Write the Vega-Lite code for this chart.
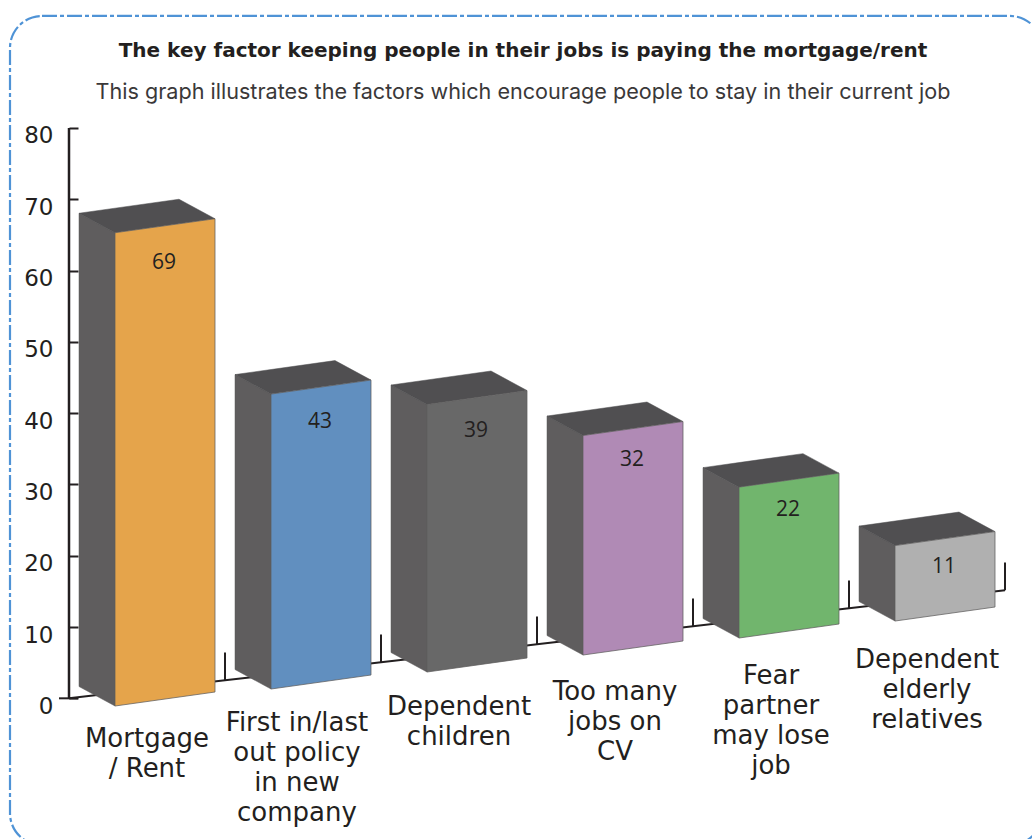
{
  "$schema": "https://vega.github.io/schema/vega-lite/v6.json",
  "width": 954,
  "height": 839,
  "padding": {"left": 78, "top": 0, "right": 0, "bottom": 0},
  "autosize": {"type": "none"},
  "background": "white",
  "view": {"stroke": null},
  "config": {"axis": {"grid": false}},
  "title": {
    "text": "The key factor keeping people in their jobs is paying the mortgage/rent",
    "subtitle": "This graph illustrates the factors which encourage people to stay in their current job",
    "anchor": "middle",
    "dx": -32,
    "offset": -104,
    "font": "DejaVu Sans",
    "fontSize": 20,
    "fontWeight": "bold",
    "color": "#231f20",
    "subtitleFont": "Inter",
    "subtitleFontSize": 21.6,
    "subtitleFontWeight": "normal",
    "subtitleColor": "#3a3839",
    "subtitlePadding": 21
  },
  "data": {
    "values": [
      {"factor": "Mortgage\n/ Rent", "value": 69},
      {"factor": "First in/last\nout policy\nin new\ncompany", "value": 43},
      {"factor": "Dependent\nchildren", "value": 39},
      {"factor": "Too many\njobs on\nCV", "value": 32},
      {"factor": "Fear\npartner\nmay lose\njob", "value": 22},
      {"factor": "Dependent\nelderly\nrelatives", "value": 11}
    ]
  },
  "transform": [
    {"window": [{"op": "row_number", "as": "position"}]},
    {"calculate": "datum.position - 1", "as": "slot"},
    {"calculate": "115 + 156 * datum.slot", "as": "frontLeft"},
    {"calculate": "-1.08 + 2.384 * datum.slot", "as": "floor"},
    {"calculate": "0.962 * datum.value", "as": "rise"}
  ],
  "layer": [
    {
      "data": {"values": [{"level": 0}, {"level": 10}, {"level": 20}, {"level": 30}, {"level": 40}, {"level": 50}, {"level": 60}, {"level": 70}, {"level": 80}]},
      "mark": {"type": "line", "stroke": "#231f20", "strokeWidth": 2.5},
      "encoding": {
        "x": {"datum": 69, "type": "quantitative", "scale": {"domain": [78, 1032], "nice": false, "zero": false}, "axis": null},
        "y": {
          "field": "level",
          "type": "quantitative",
          "scale": {"domain": [-19.73, 97.94], "nice": false, "zero": false},
          "axis": {
            "title": null,
            "orient": "left",
            "values": [0, 10, 20, 30, 40, 50, 60, 70, 80],
            "domain": false,
            "tickSize": 9,
            "tickWidth": 2,
            "tickColor": "#231f20",
            "labelPadding": 16,
            "labelOffset": 8,
            "labelFont": "DejaVu Sans",
            "labelFontSize": 23,
            "labelColor": "#231f20"
          }
        }
      }
    },
    {
      "data": {"values": [{"card": "frame"}]},
      "mark": {"type": "rect", "fill": null, "stroke": "#4f93d6", "strokeWidth": 2.2, "strokeDash": [15, 3, 4, 3], "cornerRadius": 32},
      "encoding": {
        "x": {"datum": 10, "type": "quantitative"},
        "x2": {"datum": 1042},
        "y": {"datum": 95.7, "type": "quantitative"},
        "y2": {"datum": -20.6}
      }
    },
    {
      "data": {"values": [{"tick": 0}]},
      "mark": {"type": "rule", "stroke": "#231f20", "strokeWidth": 2},
      "encoding": {
        "x": {"datum": 59, "type": "quantitative"},
        "x2": {"datum": 78},
        "y": {"datum": 0, "type": "quantitative"}
      }
    },
    {
      "data": {"values": [{"tick": 0}, {"tick": 1}, {"tick": 2}, {"tick": 3}, {"tick": 4}, {"tick": 5}, {"tick": 6}]},
      "transform": [
        {"calculate": "69 + 156 * datum.tick", "as": "along"},
        {"calculate": "2.525 * datum.tick", "as": "level"}
      ],
      "mark": {"type": "line", "stroke": "#231f20", "strokeWidth": 2},
      "encoding": {
        "x": {"field": "along", "type": "quantitative"},
        "y": {"field": "level", "type": "quantitative"},
        "order": {"field": "tick"}
      }
    },
    {
      "data": {"values": [{"tick": 1}, {"tick": 2}, {"tick": 3}, {"tick": 4}, {"tick": 5}, {"tick": 6}]},
      "transform": [
        {"calculate": "69 + 156 * datum.tick", "as": "along"},
        {"calculate": "2.525 * datum.tick", "as": "level"},
        {"calculate": "datum.level + 3.9", "as": "tickEnd"}
      ],
      "mark": {"type": "rule", "stroke": "#231f20", "strokeWidth": 2},
      "encoding": {
        "x": {"field": "along", "type": "quantitative"},
        "y": {"field": "level", "type": "quantitative"},
        "y2": {"field": "tickEnd"}
      }
    },
    {
      "transform": [
        {"calculate": "[0, 1]", "as": "depth"},
        {"flatten": ["depth"]},
        {"calculate": "datum.frontLeft - 36 * datum.depth", "as": "px"},
        {"calculate": "datum.floor + 2.735 * datum.depth", "as": "low"},
        {"calculate": "datum.low + datum.rise", "as": "high"}
      ],
      "mark": {"type": "area", "fill": "#5f5d5e", "stroke": "#5a5859", "strokeWidth": 0.5},
      "encoding": {
        "x": {"field": "px", "type": "quantitative"},
        "y": {"field": "high", "type": "quantitative"},
        "y2": {"field": "low"},
        "detail": {"field": "factor"}
      }
    },
    {
      "transform": [
        {"calculate": "[0, 1, 2, 3]", "as": "corner"},
        {"flatten": ["corner"]},
        {"calculate": "datum.frontLeft + [-36, 0, 64, 100][datum.corner]", "as": "px"},
        {"calculate": "datum.floor + datum.rise + [2.735, 0, 1.257, 1.964][datum.corner]", "as": "near"},
        {"calculate": "datum.floor + datum.rise + [2.735, 3.442, 4.699, 1.964][datum.corner]", "as": "far"}
      ],
      "mark": {"type": "area", "fill": "#504f51", "stroke": "#4d4c4e", "strokeWidth": 0.5},
      "encoding": {
        "x": {"field": "px", "type": "quantitative"},
        "y": {"field": "far", "type": "quantitative"},
        "y2": {"field": "near"},
        "detail": {"field": "factor"}
      }
    },
    {
      "transform": [
        {"calculate": "[0, 1]", "as": "across"},
        {"flatten": ["across"]},
        {"calculate": "datum.frontLeft + 100 * datum.across", "as": "px"},
        {"calculate": "datum.floor + 1.964 * datum.across", "as": "low"},
        {"calculate": "datum.low + datum.rise", "as": "high"}
      ],
      "mark": {"type": "area", "stroke": "#5f5d5e", "strokeWidth": 0.75},
      "encoding": {
        "x": {"field": "px", "type": "quantitative"},
        "y": {"field": "high", "type": "quantitative"},
        "y2": {"field": "low"},
        "color": {
          "field": "factor",
          "type": "nominal",
          "legend": null,
          "scale": {
            "domain": ["Mortgage\n/ Rent", "First in/last\nout policy\nin new\ncompany", "Dependent\nchildren", "Too many\njobs on\nCV", "Fear\npartner\nmay lose\njob", "Dependent\nelderly\nrelatives"],
            "range": ["#e5a44b", "#618fbf", "#686868", "#b08ab5", "#71b56d", "#b0b0b0"]
          }
        }
      }
    },
    {
      "transform": [
        {"calculate": "datum.frontLeft + 49", "as": "px"},
        {"calculate": "datum.floor + 0.982 + datum.rise - 5.19 + 0.238 * datum.slot", "as": "labelLevel"}
      ],
      "mark": {"type": "text", "font": "Open Sans", "fontSize": 21, "color": "#231f20", "baseline": "middle", "align": "center"},
      "encoding": {
        "x": {"field": "px", "type": "quantitative"},
        "y": {"field": "labelLevel", "type": "quantitative"},
        "text": {"field": "value", "type": "quantitative"}
      }
    },
    {
      "transform": [
        {"calculate": "147 + 156 * datum.slot + (datum.slot == 1 ? -6 : 0)", "as": "px"},
        {"calculate": "-6.79 + 2.2 * datum.slot", "as": "labelLevel"}
      ],
      "mark": {"type": "text", "font": "DejaVu Sans", "fontSize": 26, "color": "#231f20", "baseline": "alphabetic", "align": "center", "lineBreak": "\n", "lineHeight": 30},
      "encoding": {
        "x": {"field": "px", "type": "quantitative"},
        "y": {"field": "labelLevel", "type": "quantitative"},
        "text": {"field": "factor", "type": "nominal"}
      }
    }
  ]
}
